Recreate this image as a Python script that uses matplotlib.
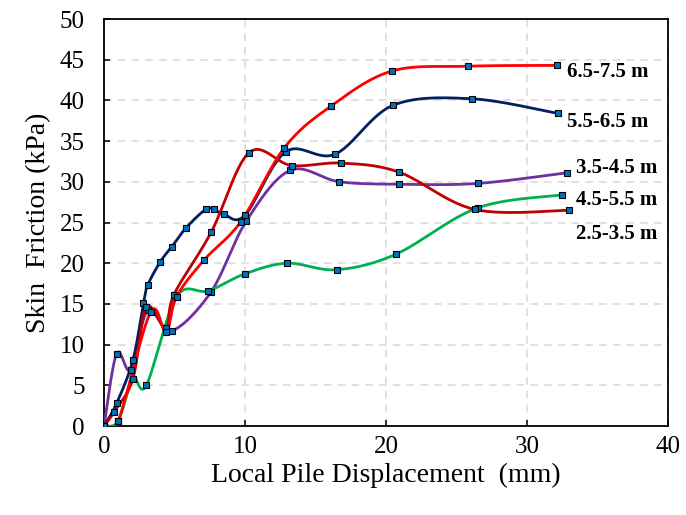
import matplotlib
matplotlib.use("Agg")
import matplotlib.pyplot as plt
import numpy as np

# data (x: displacement mm, y: skin friction kPa)
labels = ["6.5-7.5 m", "5.5-6.5 m", "3.5-4.5 m", "4.5-5.5 m", "2.5-3.5 m"]

red_x = [0, 1.0, 3.3, 4.4, 5.15, 7.1, 9.7, 12.8, 16.1, 20.4, 25.8, 32.1]
red_y = [0, 0.6, 14.0, 11.5, 15.9, 20.4, 25.1, 34.2, 39.3, 43.6, 44.2, 44.3]

navy_x = [0, 0.9, 2.05, 2.8, 3.1, 4.0, 4.8, 5.8, 7.2, 7.8, 8.5, 10.0, 12.9, 16.4, 20.5, 26.1, 32.2]
navy_y = [0, 2.8, 8.1, 15.1, 17.3, 20.2, 22.0, 24.3, 26.6, 26.6, 26.0, 25.9, 33.7, 33.4, 39.4, 40.2, 38.4]

purple_x = [0, 0.9, 1.9, 3.1, 4.8, 7.6, 10.1, 13.2, 16.7, 20.9, 26.5, 32.8]
purple_y = [0, 8.9, 6.9, 14.2, 11.7, 16.5, 25.2, 31.4, 30.0, 29.7, 29.8, 31.1]

green_x = [0, 1.0, 2.05, 3.0, 5.15, 7.4, 10.0, 13.0, 16.5, 20.7, 26.5, 32.5]
green_y = [0, 0.6, 5.8, 5.0, 15.9, 16.6, 18.7, 20.0, 19.2, 21.1, 26.8, 28.4]

dred_x = [0, 0.7, 2.05, 3.0, 4.4, 4.95, 7.6, 10.3, 13.3, 16.8, 20.9, 26.3, 33.0]
dred_y = [0, 1.7, 5.8, 14.6, 12.0, 16.1, 23.8, 33.6, 32.0, 32.3, 31.2, 26.6, 26.5]

label_pos = [(32.8, 43.5), (32.8, 37.3), (33.5, 31.7), (33.5, 27.8), (33.5, 23.6)]


def smooth(xs, ys, n=30):
    # excel-like smoothed line (catmull-rom through the points)
    p = np.column_stack([xs, ys]).astype(float)
    pts = np.vstack([p[0], p, p[-1]])
    out = []
    for i in range(1, len(pts) - 2):
        p0, p1, p2, p3 = pts[i - 1], pts[i], pts[i + 1], pts[i + 2]
        c1 = p1 + (p2 - p0) / 6.0
        c2 = p2 - (p3 - p1) / 6.0
        t = np.linspace(0, 1, n)[:, None]
        seg = ((1 - t) ** 3) * p1 + 3 * ((1 - t) ** 2) * t * c1 + 3 * (1 - t) * t ** 2 * c2 + t ** 3 * p2
        out.append(seg)
    s = np.vstack(out)
    return s[:, 0], s[:, 1]


plt.rcParams['font.family'] = ['Liberation Serif', 'DejaVu Serif']

fig = plt.figure(figsize=(6.86, 5.15), dpi=100)
ax = fig.add_axes([0.1516, 0.1728, 0.8222, 0.7903])

series = [
    (purple_x, purple_y, "#7030A0"),
    (green_x, green_y, "#00B050"),
    (navy_x, navy_y, "#002060"),
    (dred_x, dred_y, "#C00000"),
    (red_x, red_y, "#FF0000"),
]

for xs, ys, col in series:
    sx, sy = smooth(xs, ys)
    ax.plot(sx, sy, color=col, lw=2.0, zorder=3)
for xs, ys, col in series:
    ax.plot(xs, ys, ls='none', marker='s', ms=4, mfc='#0070C0', mec='black', mew=0.8, zorder=4)

for lab, (lx, ly) in zip(labels, label_pos):
    ax.text(lx, ly, lab, fontsize=15, fontweight='bold', ha='left', va='center')

ax.set_xlim(0, 40)
ax.set_ylim(0, 50)
ax.set_xticks(np.arange(0, 41, 10))
ax.set_yticks(np.arange(0, 51, 5))
ax.grid(True, color='#D9D9D9', ls=(0, (5, 4)), lw=1.1)
ax.set_axisbelow(True)
for sp in ax.spines.values():
    sp.set_linewidth(1.3)
ax.tick_params(axis='both', direction='in', length=4, width=1.1, labelsize=18)
ax.tick_params(axis='y', pad=14)
ax.tick_params(axis='x', pad=7)

ax.set_xlabel("Local Pile Displacement  (mm)", fontsize=20, labelpad=4)
ax.set_ylabel("Skin  Friction (kPa)", fontsize=20, labelpad=6)

fig.savefig("out.png", dpi=100)
